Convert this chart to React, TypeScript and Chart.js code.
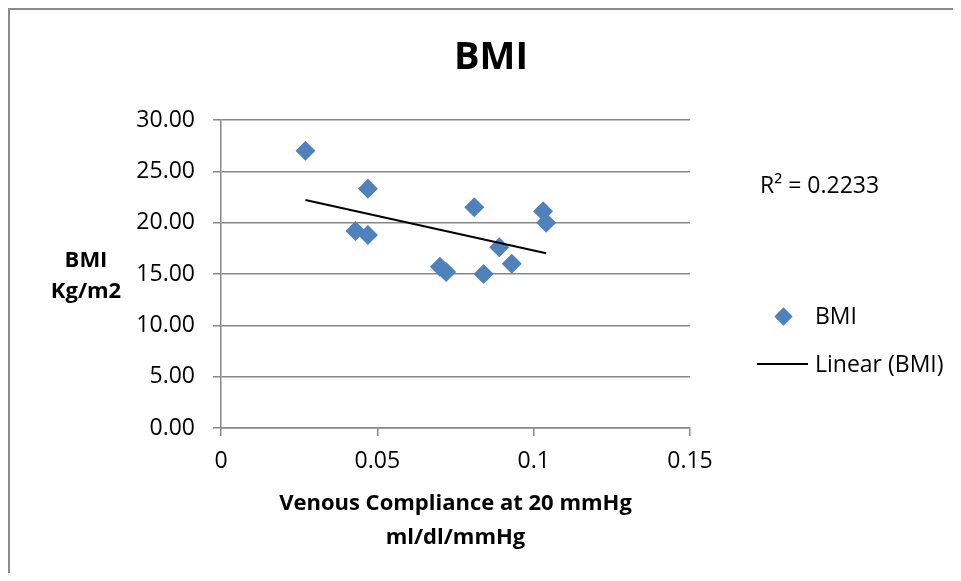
import React, { useEffect, useRef } from "react";
import { Chart, registerables } from "chart.js";

Chart.register(...registerables);

// ---- data ----
const compliance = [0.027, 0.047, 0.043, 0.047, 0.07, 0.072, 0.081, 0.084, 0.089, 0.093, 0.103, 0.104];
const bmi = [27.0, 23.3, 19.2, 18.8, 15.7, 15.2, 21.5, 15.0, 17.6, 16.0, 21.1, 20.0];
const xTicks = [0, 0.05, 0.1, 0.15];
const yTicks = [0, 5, 10, 15, 20, 25, 30];

const chartTitle = "BMI";
const seriesLabel = "BMI";
const trendLabel = "Linear (BMI)";
const rSquaredLabel = "R² = 0.2233";
const xTitle = ["Venous Compliance at 20 mmHg", "ml/dl/mmHg"];
const yTitle = ["BMI", "Kg/m2"];

// ---- styles ----
const FONT = "'Open Sans', sans-serif";
const GRID = "#878787";
const POINT = "#4F81BD";

function linearFit(xs: number[], ys: number[]) {
  const n = xs.length;
  const mx = xs.reduce((a, b) => a + b, 0) / n;
  const my = ys.reduce((a, b) => a + b, 0) / n;
  let sxy = 0;
  let sxx = 0;
  for (let i = 0; i < n; i++) {
    sxy += (xs[i] - mx) * (ys[i] - my);
    sxx += (xs[i] - mx) * (xs[i] - mx);
  }
  const slope = sxy / sxx;
  const icpt = my - slope * mx;
  const x0 = Math.min(...xs);
  const x1 = Math.max(...xs);
  return [
    { x: x0, y: icpt + slope * x0 },
    { x: x1, y: icpt + slope * x1 },
  ];
}

export default function App() {
  const ref = useRef<HTMLCanvasElement | null>(null);

  useEffect(() => {
    if (!ref.current) return;
    const points = compliance.map((x, i) => ({ x, y: bmi[i] }));
    const trend = linearFit(compliance, bmi);
    const chart = new Chart(ref.current, {
      type: "scatter",
      data: {
        datasets: [
          {
            label: trendLabel,
            data: trend,
            showLine: true,
            borderColor: "#000",
            borderWidth: 2,
            pointRadius: 0,
            pointHoverRadius: 0,
            fill: false,
            order: 0,
          },
          {
            label: seriesLabel,
            data: points,
            pointStyle: "rectRot",
            pointRadius: 10,
            pointHoverRadius: 10,
            pointBackgroundColor: POINT,
            pointBorderColor: POINT,
            pointBorderWidth: 0,
            backgroundColor: POINT,
            borderColor: POINT,
            order: 1,
          },
        ],
      },
      options: {
        animation: false,
        responsive: false,
        events: [],
        layout: { padding: { left: 0, right: 0, top: 0, bottom: 0 } },
        plugins: {
          legend: { display: false },
          tooltip: { enabled: false },
          title: {
            display: true,
            text: chartTitle,
            color: "#000",
            font: { family: FONT, size: 38, weight: "bold", lineHeight: 1.2 },
            padding: { top: 25, bottom: 39.4 },
          },
        },
        scales: {
          x: {
            type: "linear",
            min: 0,
            max: 0.15,
            afterBuildTicks: (s: any) => {
              s.ticks = xTicks.map((v) => ({ value: v }));
            },
            afterFit: (s: any) => {
              s.height = 145;
            },
            ticks: {
              color: "#000",
              padding: 12,
              font: { family: FONT, size: 23 },
              callback: (v: any) => String(Number(Number(v).toFixed(2))),
            },
            grid: {
              drawOnChartArea: false,
              drawTicks: true,
              tickLength: 8,
              color: GRID,
              lineWidth: 1.5,
            },
            border: { display: true, color: GRID, width: 1.5 },
            title: {
              display: true,
              text: xTitle,
              color: "#000",
              font: { family: FONT, size: 22, weight: "bold", lineHeight: 1.545 },
              padding: { top: 4, bottom: 18 },
            },
          },
          y: {
            type: "linear",
            min: 0,
            max: 30,
            afterBuildTicks: (s: any) => {
              s.ticks = yTicks.map((v) => ({ value: v }));
            },
            afterFit: (s: any) => {
              s.width = 211;
            },
            ticks: {
              color: "#000",
              padding: 18,
              font: { family: FONT, size: 23 },
              callback: (v: any) => Number(v).toFixed(2),
            },
            grid: {
              drawTicks: true,
              tickLength: 8,
              color: GRID,
              lineWidth: 1.5,
            },
            border: { display: true, color: GRID, width: 1.5 },
          },
          // empty right-hand box that reserves the legend space beside the plot
          yRight: {
            type: "linear",
            position: "right",
            display: true,
            min: 0,
            max: 30,
            afterFit: (s: any) => {
              s.width = 282;
            },
            ticks: { display: false },
            grid: { display: false, drawTicks: false },
            border: { display: false },
          },
        },
      } as any,
    });
    return () => chart.destroy();
  }, []);

  const text: React.CSSProperties = {
    position: "absolute",
    fontFamily: FONT,
    fontSize: 23,
    lineHeight: "27px",
    color: "#000",
    whiteSpace: "nowrap",
  };

  return (
    <div
      style={{
        position: "relative",
        width: 945,
        height: 565,
        overflow: "hidden",
        boxSizing: "border-box",
        borderLeft: "2px solid #8c8c8c",
        borderTop: "2px solid #8c8c8c",
        background: "#fff",
      }}
    >
      <canvas ref={ref} width={962} height={563} style={{ display: "block", width: 962, height: 563 }} />
      {/* y axis title */}
      <div
        style={{
          position: "absolute",
          left: 26,
          top: 233,
          width: 100,
          textAlign: "center",
          fontFamily: FONT,
          fontWeight: "bold",
          fontSize: 22,
          lineHeight: "31px",
          color: "#000",
        }}
      >
        {yTitle.map((t) => (
          <div key={t}>{t}</div>
        ))}
      </div>
      {/* R squared */}
      <div style={{ ...text, left: 750, top: 161 }}>{rSquaredLabel}</div>
      {/* legend */}
      <div
        style={{
          position: "absolute",
          left: 773 - 6.5,
          top: 306 - 6.5,
          width: 13,
          height: 13,
          background: POINT,
          transform: "rotate(45deg)",
        }}
      />
      <div style={{ ...text, left: 805, top: 292 }}>{seriesLabel}</div>
      <div style={{ position: "absolute", left: 747, top: 353, width: 51, height: 2, background: "#000" }} />
      <div style={{ ...text, left: 805, top: 340 }}>{trendLabel}</div>
    </div>
  );
}
